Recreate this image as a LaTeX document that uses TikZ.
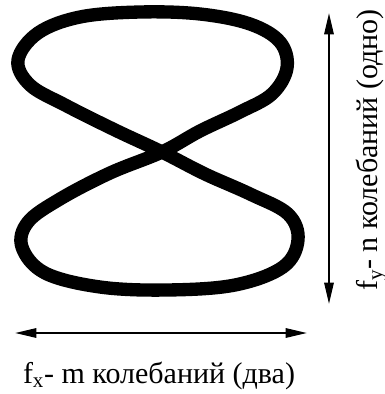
\documentclass[tikz,border=0pt]{standalone}
\usepackage{fontspec}
\setmainfont{Liberation Serif}
\usetikzlibrary{arrows.meta}

\begin{document}
\begin{tikzpicture}[x=0.75pt, y=-0.75pt,
    curve/.style={line width=10pt, black, line join=round},
    axis/.style={{Triangle[length=16pt, width=7pt]}-{Triangle[length=16pt, width=7pt]}, line width=1.5pt},
    label/.style={font=\fontsize{22.5}{26}\selectfont, inner sep=0pt}]

    \useasboundingbox (0,0) rectangle (385,394);

    % Lissajous figure
    \draw[curve] plot[smooth cycle, tension=0.6] coordinates {
        (162,152) (200,131) (240,112) (272,94) (287,68) (280,42) (250,24)
        (200,14) (140,12) (80,17) (38,33) (18,60) (30,85) (65,105) (115,130)
        (162,152) (205,174) (250,194) (288,214) (298,240) (283,267) (235,285)
        (167,290) (100,287) (45,273) (22,247) (28,222) (60,199) (110,173)};

    % Axes
    \coordinate (xleft) at (15,333);
    \coordinate (xright) at (307,333);
    \coordinate (ytop) at (329,13);
    \coordinate (ybot) at (329,304);
    \draw[axis] (xleft) -- (xright);
    \draw[axis] (ytop) -- (ybot);

    % Labels
    \node[label, anchor=base] (fx) at (159,383) {f\textsubscript{x}- m колебаний (два)};
    \node[label, anchor=base, rotate=90] (fy) at (378,150) {f\textsubscript{y}- n колебаний (одно)};

\end{tikzpicture}
\end{document}
